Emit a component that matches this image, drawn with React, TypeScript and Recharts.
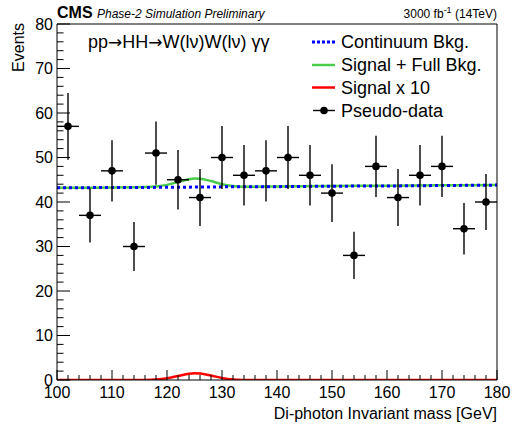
import React from "react";
import {
  ComposedChart,
  Line,
  Scatter,
  ErrorBar,
  XAxis,
  YAxis,
} from "recharts";

// pseudo-data: bin centres, counts, errors
const binCenters = [102, 106, 110, 114, 118, 122, 126, 130, 134, 138, 142, 146, 150, 154, 158, 162, 166, 170, 174, 178];
const counts = [57, 37, 47, 30, 51, 45, 41, 50, 46, 47, 50, 46, 42, 28, 48, 41, 46, 48, 34, 40];
const countErr = [7.5, 6.1, 6.9, 5.5, 7.1, 6.7, 6.4, 7.1, 6.8, 6.9, 7.1, 6.8, 6.5, 5.3, 6.9, 6.4, 6.8, 6.9, 5.8, 6.3];
const binHalfWidth = [2, 2, 2, 2, 2, 2, 2, 2, 2, 2, 2, 2, 2, 2, 2, 2, 2, 2, 2, 2];

// continuum background
const bkgX = [100, 110, 120, 130, 140, 150, 160, 170, 180];
const bkgY = [43.2, 43.25, 43.3, 43.4, 43.45, 43.55, 43.6, 43.7, 43.8];

// signal + full background
const sbX = [100, 110, 114, 116, 118, 120, 122, 124, 125, 126, 128, 130, 132, 134, 136, 140, 150, 160, 170, 180];
const sbY = [43.2, 43.25, 43.3, 43.35, 43.5, 43.85, 44.5, 45.1, 45.3, 45.25, 44.7, 44.0, 43.6, 43.45, 43.45, 43.5, 43.6, 43.65, 43.75, 43.8];

// signal x 10
const sigX = [100, 114, 116, 118, 120, 122, 124, 125, 126, 128, 130, 132, 134, 136, 180];
const sigY = [0, 0, 0.02, 0.12, 0.4, 0.9, 1.4, 1.5, 1.45, 1.0, 0.45, 0.12, 0.02, 0, 0];

const xTicks = [
  100, 102, 104, 106, 108, 110, 112, 114, 116, 118, 120, 122, 124, 126, 128, 130, 132, 134, 136, 138, 140,
  142, 144, 146, 148, 150, 152, 154, 156, 158, 160, 162, 164, 166, 168, 170, 172, 174, 176, 178, 180,
];
const yTicks = [
  0, 2, 4, 6, 8, 10, 12, 14, 16, 18, 20, 22, 24, 26, 28, 30, 32, 34, 36, 38, 40,
  42, 44, 46, 48, 50, 52, 54, 56, 58, 60, 62, 64, 66, 68, 70, 72, 74, 76, 78, 80,
];

const pseudoData = binCenters.map((x, i) => ({ x, y: counts[i], ey: countErr[i], ex: binHalfWidth[i] }));
const bkgData = bkgX.map((x, i) => ({ x, y: bkgY[i] }));
const sbData = sbX.map((x, i) => ({ x, y: sbY[i] }));
const sigData = sigX.map((x, i) => ({ x, y: sigY[i] }));

const FONT = "'Liberation Sans', Arial, Helvetica, sans-serif";
const ARROW_FONT = "'DejaVu Sans', sans-serif";

const XTick = (props: any) => {
  const { x, y, payload } = props;
  const v = payload.value;
  const major = v % 10 === 0;
  return (
    <g>
      <line x1={x} x2={x} y1={y} y2={y - (major ? 10 : 5)} stroke="#000" strokeWidth={1} />
      {major && (
        <text x={x} y={y + 18} textAnchor="middle" fontSize={16} fontFamily={FONT} fill="#000">
          {v}
        </text>
      )}
    </g>
  );
};

const YTick = (props: any) => {
  const { x, y, payload } = props;
  const v = payload.value;
  const major = v % 10 === 0;
  return (
    <g>
      <line x1={x} x2={x + (major ? 13 : 6.5)} y1={y} y2={y} stroke="#000" strokeWidth={1} />
      {major && (
        <text x={x - 4} y={y} dy="0.36em" textAnchor="end" fontSize={16} fontFamily={FONT} fill="#000">
          {v}
        </text>
      )}
    </g>
  );
};

export default function App() {
  return (
    <div style={{ position: "absolute", left: 0, top: 0, width: 512, height: 424, background: "#fff" }}>
      <ComposedChart width={512} height={424} margin={{ top: 23, right: 14, left: 7, bottom: 4 }}>
        <XAxis
          dataKey="x"
          type="number"
          domain={[100, 180]}
          ticks={xTicks}
          interval={0}
          tickSize={0}
          tickMargin={0}
          tick={<XTick />}
          axisLine={{ stroke: "#000" }}
          height={40}
          allowDataOverflow
        />
        <XAxis
          xAxisId="top"
          orientation="top"
          type="number"
          domain={[100, 180]}
          tick={false}
          tickLine={false}
          axisLine={{ stroke: "#000" }}
          height={1}
        />
        <YAxis
          type="number"
          domain={[0, 80]}
          ticks={yTicks}
          interval={0}
          tickSize={0}
          tickMargin={0}
          tick={<YTick />}
          axisLine={{ stroke: "#000" }}
          width={50}
          allowDataOverflow
        />
        <YAxis
          yAxisId="right"
          orientation="right"
          type="number"
          domain={[0, 80]}
          tick={false}
          tickLine={false}
          axisLine={{ stroke: "#000" }}
          width={1}
        />

        <Line
          data={sigData}
          dataKey="y"
          type="monotone"
          stroke="#ff0000"
          strokeWidth={2.5}
          dot={false}
          isAnimationActive={false}
        />
        <Line
          data={sbData}
          dataKey="y"
          type="monotone"
          stroke="#4ccc4c"
          strokeWidth={2.5}
          dot={false}
          isAnimationActive={false}
        />
        <Line
          data={bkgData}
          dataKey="y"
          type="monotone"
          stroke="#0000ff"
          strokeWidth={3}
          strokeDasharray="3 3"
          dot={false}
          isAnimationActive={false}
        />
        <Scatter
          data={pseudoData}
          dataKey="y"
          fill="#000"
          shape={(p: any) => <circle cx={p.cx} cy={p.cy} r={3.8} fill="#000" />}
          isAnimationActive={false}
        >
          <ErrorBar dataKey="ey" direction="y" width={0} stroke="#000" strokeWidth={1.4} />
          <ErrorBar dataKey="ex" direction="x" width={0} stroke="#000" strokeWidth={1.4} />
        </Scatter>
      </ComposedChart>

      <svg
        width={512}
        height={424}
        style={{ position: "absolute", left: 0, top: 0, pointerEvents: "none" }}
        fontFamily={FONT}
      >
        <text x={57} y={18} fontSize={16} fontWeight="bold">CMS</text>
        <text x={97} y={18} fontSize={12} fontStyle="italic">Phase-2 Simulation Preliminary</text>
        <text x={497} y={18} fontSize={12} textAnchor="end">
          3000 fb<tspan dy={-5} fontSize={9}>-1</tspan>
          <tspan dy={5}> (14TeV)</tspan>
        </text>

        <text x={24} y={23} fontSize={16} textAnchor="end" transform="rotate(-90 24 23)">Events</text>
        <text x={497} y={419} fontSize={16} textAnchor="end">Di-photon Invariant mass [GeV]</text>

        <text x={88} y={48} fontSize={18}>
          pp<tspan fontFamily={ARROW_FONT} fontSize={17}>→</tspan>HH
          <tspan fontFamily={ARROW_FONT} fontSize={17}>→</tspan>W(lν)W(lν) γγ
        </text>

        <line x1={312} x2={335} y1={42} y2={42} stroke="#0000ff" strokeWidth={3} strokeDasharray="3 2" />
        <text x={341} y={48} fontSize={18}>Continuum Bkg.</text>
        <line x1={312} x2={335} y1={65} y2={65} stroke="#4ccc4c" strokeWidth={2.5} />
        <text x={341} y={71} fontSize={18}>Signal + Full Bkg.</text>
        <line x1={312} x2={335} y1={87.5} y2={87.5} stroke="#ff0000" strokeWidth={2.5} />
        <text x={341} y={94} fontSize={18}>Signal x 10</text>
        <line x1={313} x2={335} y1={110.5} y2={110.5} stroke="#000" strokeWidth={1.4} />
        <circle cx={324} cy={110.5} r={3.8} fill="#000" />
        <text x={341} y={117} fontSize={18}>Pseudo-data</text>
      </svg>
    </div>
  );
}
